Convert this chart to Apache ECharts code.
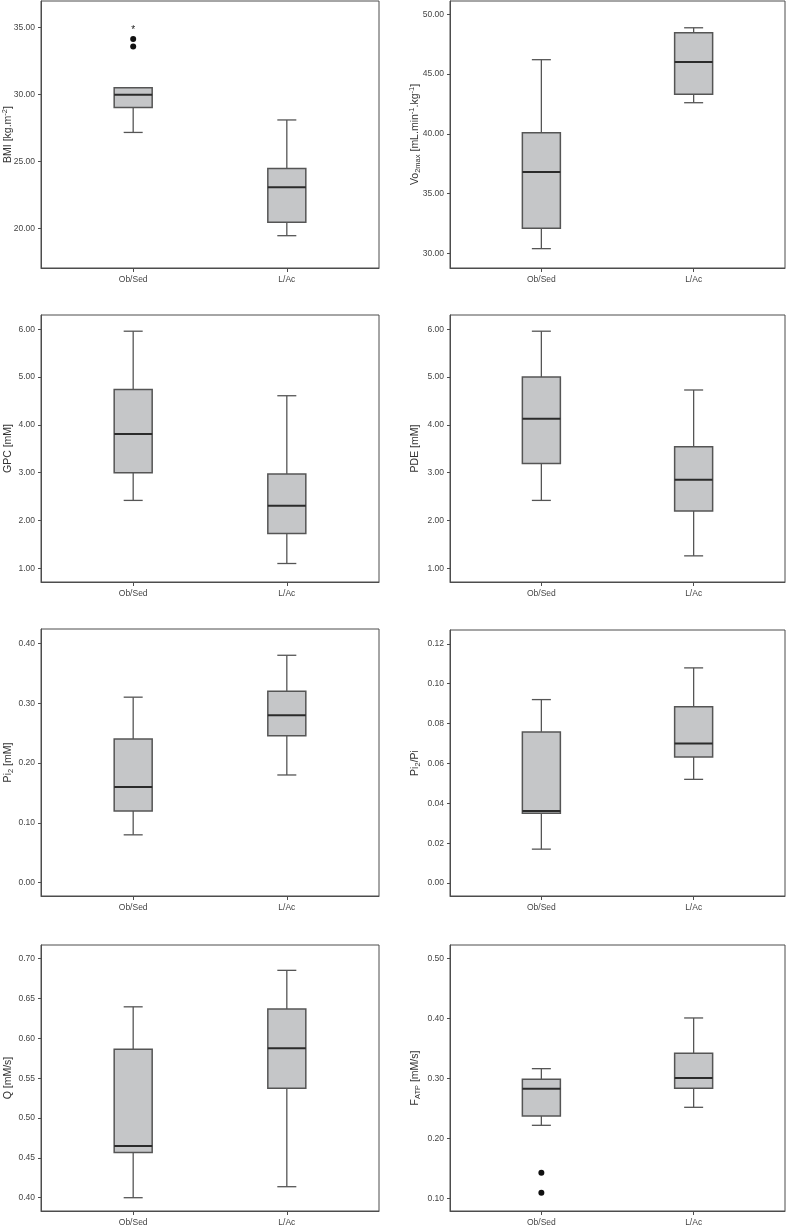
<!DOCTYPE html>
<html>
<head>
<meta charset="utf-8">
<script src="https://cdn.jsdelivr.net/npm/echarts@6/dist/echarts.min.js"></script>
<style>
html,body{margin:0;padding:0;background:#fff;}
#chart{width:787px;height:1229px;}
</style>
</head>
<body>
<div id="chart"></div>
<script>
// ---- data ----
const categories = ['Ob/Sed', 'L/Ac'];
// each box: [min whisker, Q1, median, Q3, max whisker]
const bmiBox = [[27.17, 29.03, 29.97, 30.49, 30.49], [19.48, 20.48, 23.09, 24.48, 28.10]];
const bmiOutliers = [[1, 34.13], [1, 33.58]];
const bmiExtremes = [[1, 35.0]];
const bmiTicks = [20, 25, 30, 35];

const vo2Box = [[30.39, 32.10, 36.80, 40.08, 46.20], [42.60, 43.30, 46.00, 48.45, 48.87]];
const vo2Ticks = [30, 35, 40, 45, 50];

const gpcBox = [[2.42, 3.00, 3.81, 4.74, 5.96], [1.10, 1.73, 2.31, 2.97, 4.61]];
const gpcTicks = [1, 2, 3, 4, 5, 6];

const pdeBox = [[2.42, 3.19, 4.13, 5.00, 5.96], [1.26, 2.20, 2.85, 3.54, 4.73]];
const pdeTicks = [1, 2, 3, 4, 5, 6];

const pi2Box = [[0.08, 0.12, 0.16, 0.24, 0.31], [0.18, 0.2456, 0.28, 0.32, 0.38]];
const pi2Ticks = [0, 0.1, 0.2, 0.3, 0.4];

const pi2piBox = [[0.017, 0.035, 0.0361, 0.0758, 0.092], [0.052, 0.0632, 0.070, 0.0884, 0.1079]];
const pi2piTicks = [0, 0.02, 0.04, 0.06, 0.08, 0.10, 0.12];

const qBox = [[0.400, 0.4567, 0.465, 0.5862, 0.6396], [0.4138, 0.5375, 0.5875, 0.637, 0.6854]];
const qTicks = [0.40, 0.45, 0.50, 0.55, 0.60, 0.65, 0.70];

const fatpBox = [[0.2223, 0.2378, 0.2833, 0.299, 0.3167], [0.2523, 0.284, 0.3012, 0.3423, 0.4012]];
const fatpOutliers = [[1, 0.1433], [1, 0.110]];
const fatpTicks = [0.10, 0.20, 0.30, 0.40, 0.50];

// ---- layout / style ----
const FONT = '"Liberation Sans", Arial, Helvetica, sans-serif';
const FRAME = '#4d4d4d';
const BOX_FILL = '#c5c6c8';
const BOX_EDGE = '#555555';
const MEDIAN = '#2b2b2b';
const HALF_BOX = 19;
const HALF_CAP = 9.5;

const nameRich = {
  n: {fontSize: 10.5, lineHeight: 14, fontFamily: FONT, color: '#333'},
  sup: {fontSize: 7.5, lineHeight: 7, verticalAlign: 'top', fontFamily: FONT, color: '#333'},
  sub: {fontSize: 7.5, lineHeight: 7, verticalAlign: 'bottom', fontFamily: FONT, color: '#333'}
};

const panels = [
  {grid: {left: 41, top: 1, width: 338, height: 267}, gap: 26, min: 17.073, max: 36.96, ticks: bmiTicks, box: bmiBox, out: bmiOutliers, ext: bmiExtremes,
   name: '{n|BMI [kg.m}{sup|-2}{n|]}'},
  {grid: {left: 450, top: 1, width: 335, height: 267}, gap: 28, min: 28.77, max: 51.11, ticks: vo2Ticks, box: vo2Box,
   name: '{n|Vo}{sub|2max}{n| [mL.min}{sup|-1}{n|.kg}{sup|-1}{n|]}'},
  {grid: {left: 41, top: 315, width: 338, height: 267}, gap: 26, min: 0.713, max: 6.299, ticks: gpcTicks, box: gpcBox,
   name: '{n|GPC [mM]}'},
  {grid: {left: 450, top: 315, width: 335, height: 267}, gap: 28, min: 0.713, max: 6.299, ticks: pdeTicks, box: pdeBox,
   name: '{n|PDE [mM]}'},
  {grid: {left: 41, top: 629, width: 338, height: 267}, gap: 26, min: -0.0222, max: 0.4239, ticks: pi2Ticks, box: pi2Box,
   name: '{n|Pi}{sub|2}{n| [mM]}'},
  {grid: {left: 450, top: 630, width: 335, height: 266}, gap: 28, min: -0.0065, max: 0.1269, ticks: pi2piTicks, box: pi2piBox,
   name: '{n|Pi}{sub|2}{n|/Pi}'},
  {grid: {left: 41, top: 945, width: 338, height: 266}, gap: 26, min: 0.3833, max: 0.7172, ticks: qTicks, box: qBox,
   name: '{n|Q [mM/s]}'},
  {grid: {left: 450, top: 945, width: 335, height: 266}, gap: 28, min: 0.0795, max: 0.5228, ticks: fatpTicks, box: fatpBox, out: fatpOutliers,
   name: '{n|F}{sub|ATP}{n| [mM/s]}'}
];

function renderBox(params, api) {
  const x = api.value(0);
  const lo = api.coord([x, api.value(1)]);
  const q1 = api.coord([x, api.value(2)]);
  const md = api.coord([x, api.value(3)]);
  const q3 = api.coord([x, api.value(4)]);
  const hi = api.coord([x, api.value(5)]);
  const cx = lo[0];
  const ls = {stroke: BOX_EDGE, lineWidth: 1.3};
  const children = [];
  if (Math.abs(hi[1] - q3[1]) > 0.5) {
    children.push({type: 'line', shape: {x1: cx, y1: hi[1], x2: cx, y2: q3[1]}, style: ls});
    children.push({type: 'line', shape: {x1: cx - HALF_CAP, y1: hi[1], x2: cx + HALF_CAP, y2: hi[1]}, style: ls});
  }
  if (Math.abs(lo[1] - q1[1]) > 0.5) {
    children.push({type: 'line', shape: {x1: cx, y1: q1[1], x2: cx, y2: lo[1]}, style: ls});
    children.push({type: 'line', shape: {x1: cx - HALF_CAP, y1: lo[1], x2: cx + HALF_CAP, y2: lo[1]}, style: ls});
  }
  children.push({type: 'rect', shape: {x: cx - HALF_BOX, y: q3[1], width: HALF_BOX * 2, height: q1[1] - q3[1]},
    style: {fill: BOX_FILL, stroke: BOX_EDGE, lineWidth: 1.5}});
  children.push({type: 'line', shape: {x1: cx - HALF_BOX, y1: md[1], x2: cx + HALF_BOX, y2: md[1]},
    style: {stroke: MEDIAN, lineWidth: 2}});
  return {type: 'group', children: children};
}

function renderStar(params, api) {
  const p = api.coord([api.value(0), api.value(1)]);
  return {type: 'text', x: p[0], y: p[1] + 2.5,
    style: {text: '*', fill: '#222', fontSize: 10, fontFamily: FONT, align: 'center', verticalAlign: 'middle'}};
}

const option = {
  animation: false,
  backgroundColor: '#ffffff',
  grid: [], xAxis: [], yAxis: [], series: []
};

panels.forEach(function (p, i) {
  option.grid.push(Object.assign({show: true, borderColor: FRAME, borderWidth: 1, backgroundColor: 'transparent',
    containLabel: false, outerBoundsMode: 'none'}, p.grid));
  option.xAxis.push({
    type: 'value', gridIndex: i, min: 0.4, max: 2.6,
    axisLine: {show: true, onZero: false, lineStyle: {color: FRAME, width: 1}},
    axisTick: {show: true, length: 4, customValues: [1, 2], lineStyle: {color: FRAME}},
    axisLabel: {customValues: [1, 2], margin: 7, fontSize: 8.5, color: '#444', fontFamily: FONT,
      formatter: function (v) { return categories[Math.round(v) - 1] || ''; }},
    splitLine: {show: false}
  });
  option.yAxis.push({
    type: 'value', gridIndex: i, min: p.min, max: p.max,
    name: p.name, nameLocation: 'middle', nameRotate: 90, nameGap: p.gap, nameMoveOverlap: false,
    nameTextStyle: {rich: nameRich, fontFamily: FONT, fontSize: 10.5, color: '#333'},
    axisLine: {show: true, onZero: false, lineStyle: {color: FRAME, width: 1}},
    axisTick: {show: true, length: 3, customValues: p.ticks, lineStyle: {color: FRAME}},
    axisLabel: {customValues: p.ticks, margin: 6, fontSize: 8.5, color: '#444', fontFamily: FONT,
      formatter: function (v) { return Number(v).toFixed(2); }},
    splitLine: {show: false}
  });
  const boxData = p.box.map(function (b, k) { return [k + 1].concat(b); });
  option.series.push({
    type: 'custom', xAxisIndex: i, yAxisIndex: i, renderItem: renderBox,
    encode: {x: 0, y: [1, 2, 3, 4, 5]}, data: boxData, silent: true, clip: false
  });
  if (p.out) {
    option.series.push({
      type: 'scatter', xAxisIndex: i, yAxisIndex: i, data: p.out,
      symbol: 'circle', symbolSize: 6, itemStyle: {color: '#111111', opacity: 1}, silent: true
    });
  }
  if (p.ext) {
    option.series.push({
      type: 'custom', xAxisIndex: i, yAxisIndex: i, renderItem: renderStar,
      encode: {x: 0, y: 1}, data: p.ext, silent: true
    });
  }
});

const chart = echarts.init(document.getElementById('chart'), null, {renderer: 'canvas'});
chart.setOption(option);
</script>
</body>
</html>
